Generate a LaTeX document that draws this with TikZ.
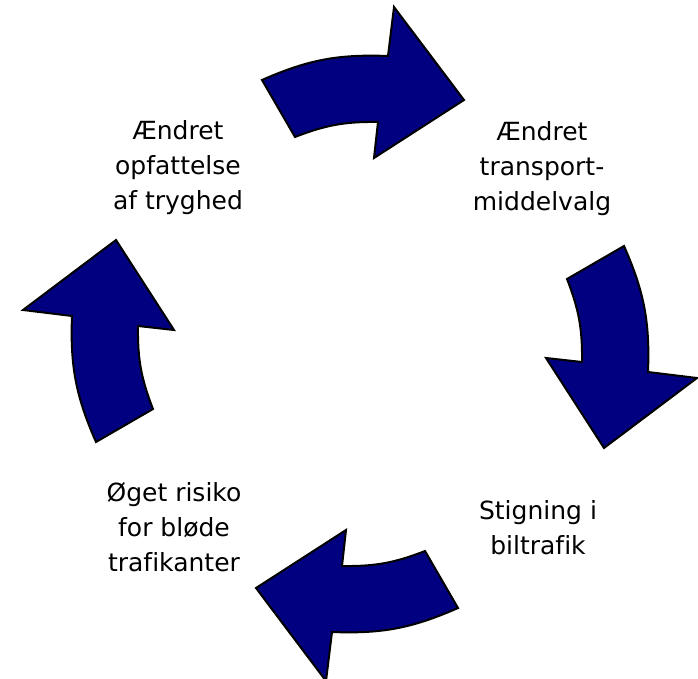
\documentclass[tikz,border=0pt]{standalone}
\usepackage{fontspec}
\setmainfont[Ligatures=CommonOff]{DejaVu Sans}
\definecolor{navyblue}{RGB}{0,0,128}
\begin{document}
\begin{tikzpicture}[x=1pt,y=-1pt,
  blockarrow/.style={fill=navyblue,draw=black,line width=2pt,line join=miter},
  lbl/.style={align=center,anchor=north,inner sep=0pt,font=\fontsize{25}{35}\selectfont}]
\useasboundingbox (0,0) rectangle (698,679);
\coordinate (C) at (360,344);
\foreach \r in {0,-90,-180,-270}{
  \begin{scope}[rotate around={\r:(C)}]
    \draw[blockarrow] (262,80) to[bend left=13] (388,56) -- (394,7) -- (464,100)
      -- (374,158) -- (378,122) to[bend right=11] (295,137) -- cycle;
  \end{scope}
}
\node[lbl] (l1) at (178,120) {Ændret\\opfattelse\\af tryghed};
\node[lbl] (l2) at (542,121) {Ændret\\transport-\\middelvalg};
\node[lbl] (l3) at (538,500) {Stigning i\\biltrafik};
\node[lbl] (l4) at (174,482) {Øget risiko\\for bløde\\trafikanter};
\end{tikzpicture}
\end{document}
